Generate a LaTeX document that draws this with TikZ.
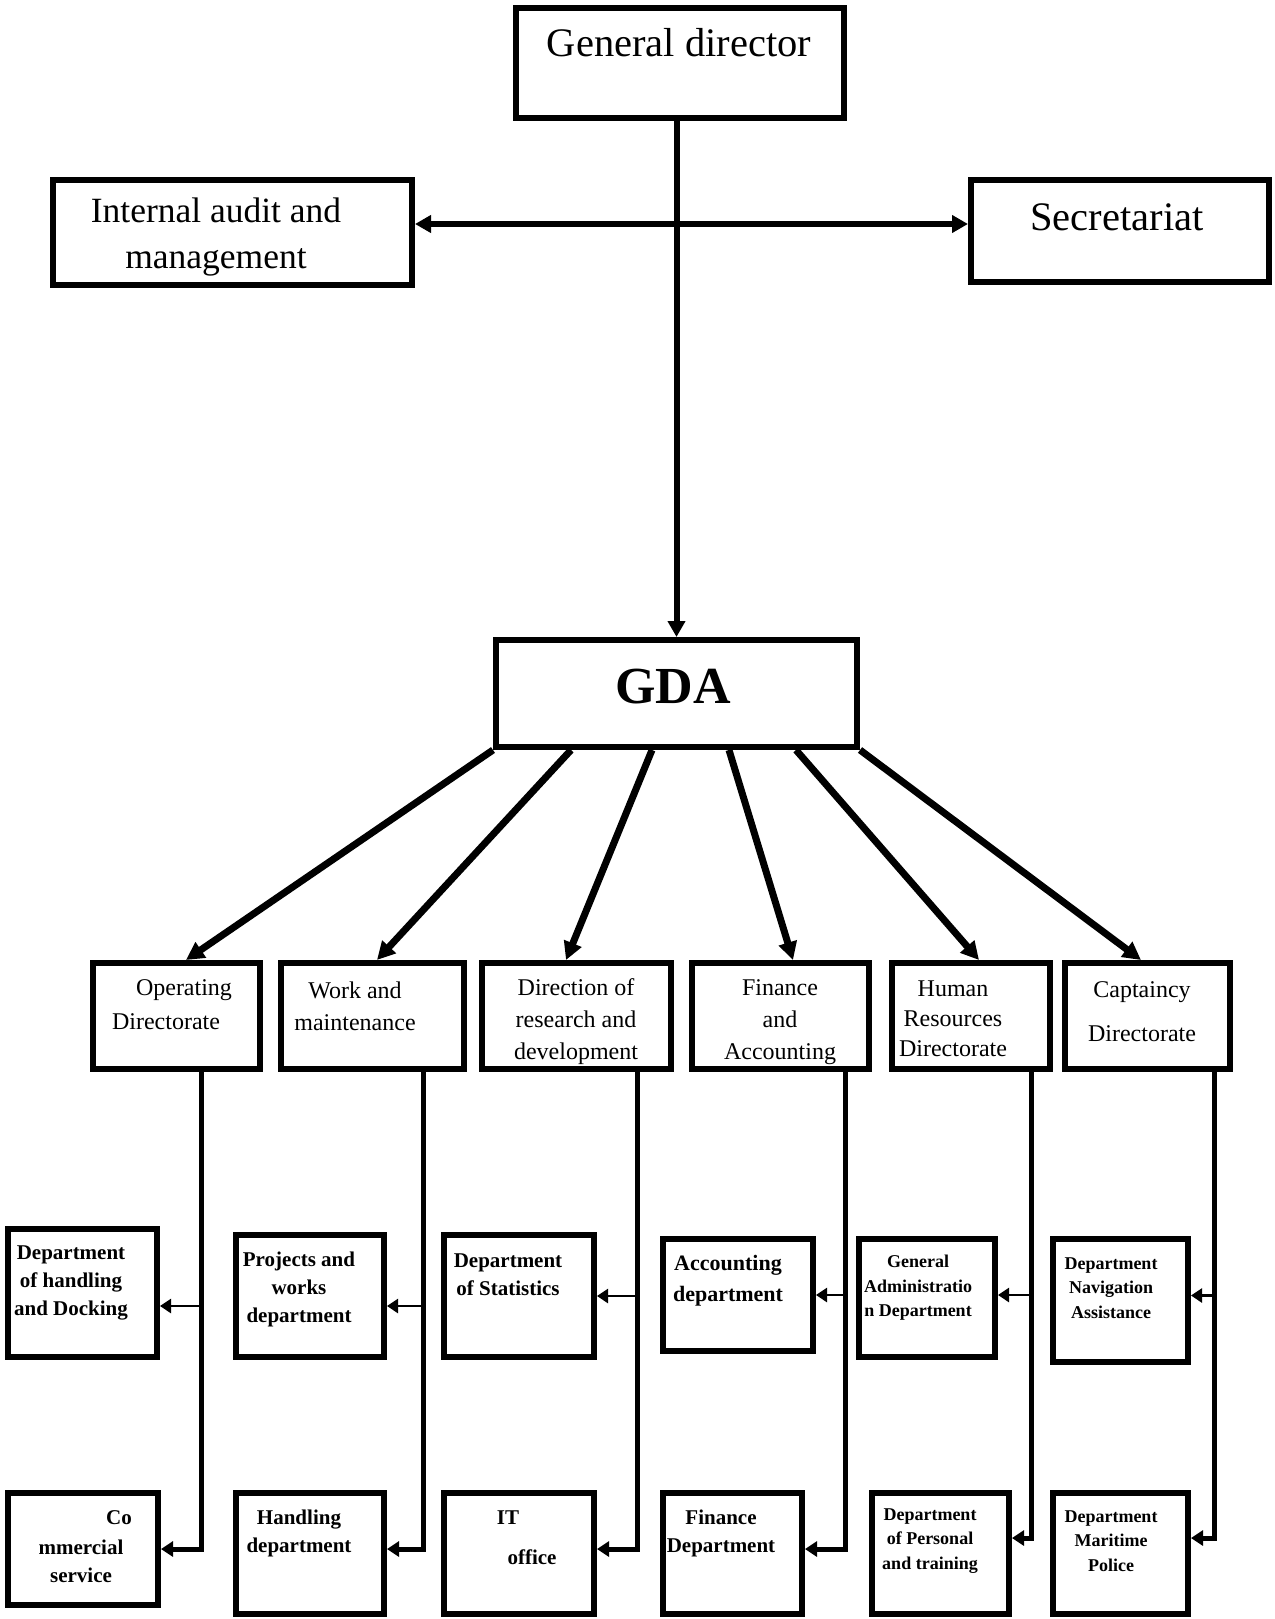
\documentclass[tikz,border=0pt]{standalone}
\usepackage{fontspec}
\setmainfont{Liberation Serif}
\usetikzlibrary{arrows.meta,calc}

% box drawn from its outer corners: name, x1, y1, x2, y2
\newcommand\orgbox[5]{%
  \node[box, minimum width={#4-#2-6}, minimum height={#5-#3-6}]
    (#1) at ({(#2+#4)/2},{(#3+#5)/2}) {};}

\begin{document}
\begin{tikzpicture}[x=1pt,y=-1pt,
  box/.style={draw, line width=6pt, inner sep=0pt},
  txt/.style={align=center, inner sep=0pt},
  topfont/.style={txt, font=\fontsize{40.5}{46}\selectfont},
  gdafont/.style={txt, font=\bfseries\fontsize{52}{60}\selectfont},
  midfont/.style={txt, font=\fontsize{24}{32}\selectfont},
  subfont/.style={txt, font=\bfseries\fontsize{21}{28}\selectfont},
  smallfont/.style={txt, font=\bfseries\fontsize{18}{24.5}\selectfont},
  mainarrow/.style={line width=6pt, -{Triangle[length=16pt,width=17pt]}},
  sidearrow/.style={line width=6pt, {Triangle[length=16pt,width=17pt]}-{Triangle[length=16pt,width=17pt]}},
  diagarrow/.style={line width=7pt, -{Triangle[length=18pt,width=18pt]}},
  subarrow/.style={line width=2.5pt, -{Triangle[length=11pt,width=14pt]}},
  lowarrow/.style={line width=5pt, -{Triangle[length=12pt,width=15pt]}},
]
\useasboundingbox (0,0) rectangle (1274,1619);

% top level
\orgbox{gd}{513}{5}{847}{121}
\orgbox{ia}{50}{177}{415}{288}
\orgbox{sec}{968}{177}{1272}{285}
\orgbox{gda}{493}{637}{860}{750}

% directorates
\orgbox{op}{90}{960}{263}{1072}
\orgbox{wm}{278}{960}{467}{1072}
\orgbox{rd}{479}{960}{674}{1072}
\orgbox{fa}{689}{960}{872}{1072}
\orgbox{hr}{889}{960}{1053}{1072}
\orgbox{cap}{1062}{960}{1233}{1072}

% departments, upper row
\orgbox{hd}{5}{1226}{160}{1360}
\orgbox{pw}{233}{1232}{387}{1360}
\orgbox{st}{441}{1232}{597}{1360}
\orgbox{ac}{660}{1236}{816}{1354}
\orgbox{ga}{856}{1236}{998}{1360}
\orgbox{na}{1050}{1236}{1191}{1365}

% departments, lower row
\orgbox{cs}{5}{1490}{161}{1608}
\orgbox{hh}{233}{1490}{387}{1617}
\orgbox{it}{441}{1490}{597}{1617}
\orgbox{fd}{660}{1490}{805}{1617}
\orgbox{dp}{869}{1490}{1012}{1617}
\orgbox{mp}{1050}{1490}{1191}{1617}

% labels
\node[topfont] (t-gd) at (679,43) {General director};
\node[topfont, font=\fontsize{35.5}{46}\selectfont] (t-ia) at (216,237) {Internal audit and\\management};
\node[topfont] (t-sec) at (1117,217) {Secretariat};
\node[gdafont] (t-gda) at (673,687) {GDA};

\node[midfont] (t-op1) at (184,990) {Operating};
\node[midfont] (t-op2) at (166,1022) {Directorate};
\node[midfont] (t-wm) at (355,1006) {Work and\\maintenance};
\node[midfont] (t-rd) at (576,1022) {Direction of\\research and\\development};
\node[midfont] (t-fa) at (780,1022) {Finance\\and\\Accounting};
\node[midfont, font=\fontsize{24}{30}\selectfont] (t-hr) at (953,1019) {Human\\Resources\\Directorate};
\node[midfont, font=\fontsize{24}{44}\selectfont] (t-cap) at (1142,1012) {Captaincy\\Directorate};

\node[subfont] (t-hd) at (71,1283) {Department\\of handling\\and Docking};
\node[subfont] (t-pw) at (299,1289) {Projects and\\works\\department};
\node[subfont] (t-st) at (508,1275) {Department\\of Statistics};
\node[subfont, font=\bfseries\fontsize{22}{31}\selectfont] (t-ac) at (728,1281) {Accounting\\department};
\node[smallfont] (t-ga) at (918,1288) {General\\Administratio\\n Department};
\node[smallfont] (t-na) at (1111,1288) {Department\\Navigation\\Assistance};

\node[subfont] (t-cs1) at (119,1518) {Co};
\node[subfont] (t-cs2) at (81,1561) {mmercial\\service};
\node[subfont] (t-hh) at (299,1533) {Handling\\department};
\node[subfont] (t-it1) at (508,1518) {IT};
\node[subfont] (t-it2) at (532,1557) {office};
\node[subfont] (t-fd) at (721,1533) {Finance\\Department};
\node[smallfont] (t-dp) at (930,1541) {Department\\of Personal\\and training};
\node[smallfont] (t-mp) at (1111,1541) {Department\\Maritime\\Police};

% general director to GDA, with the two staff units
\draw[mainarrow] (gd.south -| gda.north) -- (gda.north);
\coordinate (iaE) at ([yshift=8.5pt]ia.east);
\draw[sidearrow] (iaE) -- (iaE -| sec.west);

% GDA to directorates
\draw[diagarrow] (gda.south west) -- ([xshift=9.5pt]op.north);
\draw[diagarrow] ([xshift=78pt]gda.south west) -- ([xshift=4.5pt]wm.north);
\draw[diagarrow] ([xshift=159pt]gda.south west) -- ([xshift=-10.5pt]rd.north);
\draw[diagarrow] ([xshift=236pt]gda.south west) -- ([xshift=12.5pt]fa.north);
\draw[diagarrow] ([xshift=303pt]gda.south west) -- ([xshift=8pt]hr.north);
\draw[diagarrow] (gda.south east) -- ([xshift=-6.5pt]cap.north);

% feeder lines below each directorate
\coordinate (opv) at ([xshift=24.5pt]op.south);
\coordinate (wmv) at ([xshift=50.5pt]wm.south);
\coordinate (rdv) at ([xshift=60.5pt]rd.south);
\coordinate (fav) at ([xshift=64.5pt]fa.south);
\coordinate (hrv) at ([xshift=60pt]hr.south);
\coordinate (capv) at ([xshift=66.5pt]cap.south);

% arrow ends on the lower-row departments
\coordinate (csE) at (cs.east);
\coordinate (hhE) at ([yshift=4.5pt]hh.east);
\coordinate (itE) at ([yshift=4.5pt]it.east);
\coordinate (fdE) at ([yshift=4.5pt]fd.east);
\coordinate (dpE) at ([yshift=15.5pt]dp.east);
\coordinate (mpE) at ([yshift=15.5pt]mp.east);

\draw[lowarrow] (opv) |- (csE);
\draw[lowarrow] (wmv) |- (hhE);
\draw[lowarrow] (rdv) |- (itE);
\draw[lowarrow] (fav) |- (fdE);
\draw[lowarrow] (hrv) |- (dpE);
\draw[lowarrow] (capv) |- (mpE);

% arrow ends on the upper-row departments
\coordinate (hdE) at ([yshift=-13pt]hd.east);
\coordinate (pwE) at ([yshift=-10pt]pw.east);
\coordinate (stE) at (st.east);
\coordinate (acE) at (ac.east);
\coordinate (gaE) at ([yshift=3pt]ga.east);
\coordinate (naE) at ([yshift=5pt]na.east);

\draw[subarrow] (hdE -| opv) -- (hdE);
\draw[subarrow] (pwE -| wmv) -- (pwE);
\draw[subarrow] (stE -| rdv) -- (stE);
\draw[subarrow] (acE -| fav) -- (acE);
\draw[subarrow] (gaE -| hrv) -- (gaE);
\draw[subarrow] (naE -| capv) -- (naE);
\end{tikzpicture}
\end{document}
